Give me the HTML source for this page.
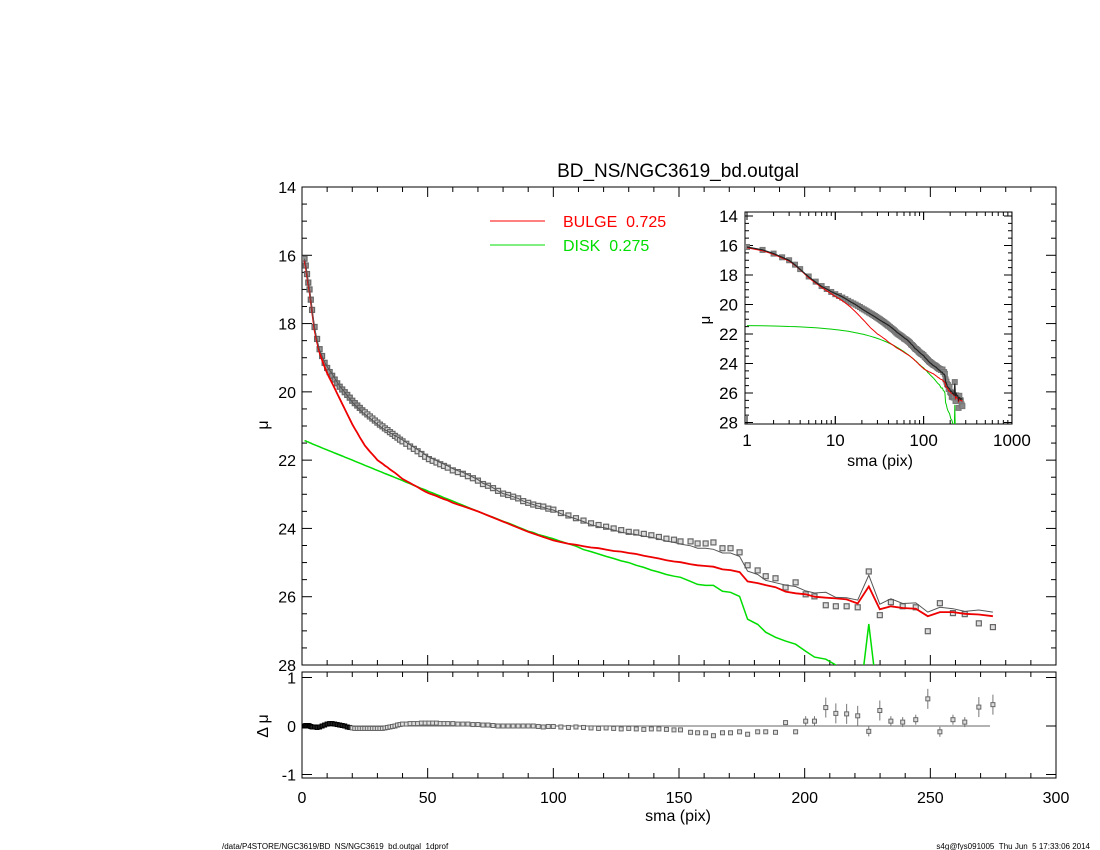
<!DOCTYPE html>
<html><head><meta charset="utf-8">
<style>
body{margin:0;background:#fff;}
svg{display:block;font-family:"Liberation Sans",sans-serif;}
</style></head>
<body>
<svg id="chart" width="1100" height="850" xmlns="http://www.w3.org/2000/svg">
<rect x="0" y="0" width="1100" height="850" fill="#fff"/>
<text x="678" y="177" font-size="19" text-anchor="middle">BD_NS/NGC3619_bd.outgal</text>
<defs>
<clipPath id="cm"><rect x="302" y="187" width="754" height="478"/></clipPath>
<clipPath id="ci"><rect x="745" y="212" width="267" height="212"/></clipPath>
</defs>
<g id="axes"></g>
<g id="marks"></g>
<line x1="490" y1="221" x2="545" y2="221" stroke="#f00" stroke-width="1"/>
<text x="563" y="227" font-size="16" fill="#f00">BULGE&#160;&#160;0.725</text>
<line x1="490" y1="245" x2="545" y2="245" stroke="#0d0" stroke-width="1"/>
<text x="563" y="251" font-size="16" fill="#0d0">DISK&#160;&#160;0.275</text>
<text x="268" y="425" font-size="16" text-anchor="middle" transform="rotate(-90 268 425)">μ</text>
<text x="268" y="726" font-size="16" text-anchor="middle" transform="rotate(-90 268 726)">Δ μ</text>
<text x="678" y="821" font-size="16" text-anchor="middle">sma (pix)</text>
<text x="710" y="320" font-size="15" text-anchor="middle" transform="rotate(-90 710 320)">μ</text>
<text x="880" y="466" font-size="16" text-anchor="middle">sma (pix)</text>
<text x="222" y="849" font-size="8">/data/P4STORE/NGC3619/BD_NS/NGC3619_bd.outgal_1dprof</text>
<text x="1090" y="849" font-size="8" text-anchor="end">s4g@fys091005&#160;&#160;Thu Jun&#160;&#160;5 17:33:06 2014</text>
</svg>
<script>
const sma=[1,1.5,2,2.5,3,3.5,4,5,6,7,8,9,10,11,12,13,14,15,16,17,18,19,20,21,22,23,24,25,26,27,28,29,30,31,32,33,34,35,36,37,38,39,40,41.5,43,44.5,46,47.5,49,50.5,52,53.5,55,56.5,58,60,62,64,66,68,70,72,74,76,78,80,82,84,86,88,90,92,94,96,98,100,103,106,109,112,115,118,121,124,127,130,133,136,139,142,145,148,
150.6,154.6,157.4,160.6,163.7,167.3,170.5,174.1,177.3,181.3,184.5,188.4,192.4,196.4,200.4,203.9,208.4,212.4,216.7,221.1,225.5,229.9,234.3,239.0,244.2,249.0,253.8,259.0,263.7,269.3,274.9];
const muObs=[16.1,16.3,16.55,16.8,17.0,17.3,17.6,18.1,18.45,18.75,18.95,19.15,19.3,19.42,19.53,19.64,19.75,19.85,19.93,20.01,20.09,20.17,20.26,20.33,20.4,20.47,20.54,20.6,20.66,20.72,20.78,20.84,20.9,20.96,21.01,21.07,21.12,21.18,21.23,21.29,21.34,21.4,21.45,21.52,21.6,21.67,21.74,21.82,21.9,21.97,22.02,22.07,22.12,22.17,22.22,22.3,22.35,22.4,22.47,22.53,22.6,22.7,22.75,22.82,22.9,22.98,23.02,23.07,23.12,23.2,23.25,23.3,23.34,23.36,23.42,23.45,23.55,23.62,23.7,23.77,23.85,23.9,23.95,24.0,24.05,24.1,24.12,24.16,24.2,24.25,24.3,24.33,
24.38,24.38,24.44,24.44,24.41,24.58,24.58,24.70,25.08,25.23,25.40,25.46,25.73,25.58,25.93,25.99,26.25,26.28,26.28,26.31,25.26,26.54,26.16,26.28,26.31,27.01,26.19,26.48,26.51,26.78,26.89];
const muBulge=[16.15,16.35,16.6,16.85,17.05,17.35,17.65,18.2,18.55,18.85,19.07,19.27,19.45,19.6,19.75,19.9,20.05,20.2,20.35,20.5,20.65,20.8,20.95,21.08,21.2,21.33,21.45,21.57,21.66,21.75,21.83,21.91,22.0,22.05,22.1,22.16,22.21,22.27,22.32,22.37,22.43,22.49,22.55,22.61,22.67,22.73,22.79,22.86,22.92,22.97,23.01,23.05,23.1,23.14,23.18,23.25,23.3,23.35,23.4,23.45,23.5,23.56,23.62,23.68,23.74,23.8,23.86,23.92,23.98,24.04,24.1,24.15,24.2,24.25,24.3,24.35,24.4,24.45,24.48,24.52,24.56,24.58,24.62,24.66,24.68,24.72,24.75,24.8,24.84,24.88,24.93,24.97,
24.99,25.05,25.08,25.1,25.12,25.2,25.22,25.28,25.55,25.6,25.66,25.72,25.85,25.9,25.93,26.0,26.03,26.05,26.08,26.2,25.7,26.37,26.28,26.33,26.35,26.57,26.45,26.45,26.5,26.52,26.57];
const muDisk=[21.43,21.44,21.46,21.47,21.49,21.5,21.52,21.55,21.58,21.61,21.64,21.67,21.7,21.73,21.76,21.79,21.82,21.85,21.88,21.91,21.94,21.97,22.0,22.03,22.06,22.09,22.12,22.15,22.18,22.21,22.24,22.27,22.3,22.33,22.36,22.39,22.42,22.45,22.48,22.51,22.54,22.57,22.6,22.65,22.69,22.74,22.78,22.83,22.87,22.92,22.96,23.01,23.05,23.1,23.14,23.2,23.26,23.32,23.38,23.44,23.5,23.56,23.62,23.67,23.73,23.79,23.84,23.9,23.96,24.02,24.08,24.12,24.18,24.22,24.26,24.3,24.38,24.45,24.52,24.62,24.68,24.75,24.82,24.88,24.95,25.0,25.08,25.14,25.22,25.28,25.35,25.4,
25.43,25.55,25.64,25.67,25.67,25.84,25.87,25.99,26.66,26.81,27.04,27.19,27.3,27.39,27.6,27.77,27.83,28.0,29.5,29.5,26.8,29.5,29.5,29.5,29.5,29.5,29.5,29.5,29.5,29.5,29.5];
const resid=[0.0,0.01,0.0,0.01,0.0,-0.01,-0.02,-0.02,-0.03,-0.02,0.0,0.02,0.04,0.05,0.05,0.04,0.03,0.02,0.01,0.0,-0.02,-0.03,-0.04,-0.05,-0.05,-0.05,-0.05,-0.05,-0.05,-0.05,-0.05,-0.05,-0.05,-0.05,-0.05,-0.04,-0.03,-0.02,-0.01,0.0,0.02,0.03,0.04,0.04,0.05,0.05,0.05,0.06,0.06,0.06,0.06,0.06,0.05,0.05,0.05,0.05,0.04,0.04,0.04,0.03,0.03,0.02,0.02,0.01,0.0,0.0,0.0,0.0,0.0,0.0,0.0,0.0,-0.01,-0.02,-0.01,-0.01,-0.02,-0.03,-0.02,-0.03,-0.04,-0.05,-0.04,-0.05,-0.06,-0.05,-0.06,-0.07,-0.06,-0.06,-0.07,-0.08,
-0.08,-0.13,-0.14,-0.14,-0.2,-0.14,-0.14,-0.12,-0.17,-0.12,-0.12,-0.13,0.07,-0.12,0.1,0.1,0.38,0.26,0.25,0.21,-0.11,0.32,0.1,0.08,0.13,0.56,-0.12,0.13,0.08,0.39,0.44];
const xTicks=[0,50,100,150,200,250,300];
const yTicks=[14,16,18,20,22,24,26,28];
const rTicks=[1,0,-1];
const inXTicks=[1,10,100,1000];

const NS='http://www.w3.org/2000/svg';
const X=v=>302+v*(754/300);
const Y=m=>187+(m-14)*(478/14);
const RY=d=>726-d*48.5;
const IX=r=>747+88.3*Math.log10(r);
const IY=m=>216+(m-14)*14.75;
const axes=document.getElementById('axes'), marks=document.getElementById('marks');
function mk(tag,at,p){const e=document.createElementNS(NS,tag);for(const k in at)e.setAttribute(k,at[k]);(p||axes).appendChild(e);return e;}
function ln(x1,y1,x2,y2,c,w,p){return mk('line',{x1,y1,x2,y2,stroke:c||'#000','stroke-width':w||1},p);}
function txt(x,y,s,fs,anc){const t=mk('text',{x,y,'font-size':fs,'text-anchor':anc||'middle'});t.textContent=s;return t;}

let f=mk('rect',{x:302,y:187,width:754,height:478,fill:'none',stroke:'#000','stroke-width':1});


f=mk('rect',{x:302,y:672,width:754,height:106,fill:'none',stroke:'#000','stroke-width':1});


for(let v=0;v<=300;v+=10){const maj=v%50===0,L=maj?10:5;
 ln(X(v),665,X(v),665-L);ln(X(v),187,X(v),187+L);ln(X(v),778,X(v),778-L);ln(X(v),672,X(v),672+L);}
xTicks.forEach(v=>{const t=txt(X(v),803,String(v),16);
 
 });
for(let m=14;m<=28;m+=0.5){const maj=m%2===0,L=maj?10:5;ln(302,Y(m),302+L,Y(m));ln(1056,Y(m),1056-L,Y(m));}
yTicks.forEach(m=>{const t=txt(296,Y(m)+6,String(m),16,'end');
 
 });
rTicks.forEach(d=>{ln(302,RY(d),312,RY(d));ln(1056,RY(d),1046,RY(d));const t=txt(296,RY(d)+6,String(d),16,'end');
 
 });
</script>
<script>
const gInset=mk('g',{},marks);
f=mk('rect',{x:745,y:212,width:267,height:212,fill:'#fff',stroke:'#000','stroke-width':1},marks);


for(let d=0;d<3;d++)for(let k=1;k<=10;k++){const r=Math.pow(10,d)*k,L=k===1||k===10?8:4;ln(IX(r),424,IX(r),424-L,'#000',1,marks);ln(IX(r),212,IX(r),212+L,'#000',1,marks);}
inXTicks.forEach(r=>{const t=txt(IX(r),446,String(r),17);
 
 });
for(let m=14;m<=28;m+=0.5){const maj=m%2===0,L=maj?8:4;ln(745,IY(m),745+L,IY(m),'#000',1,marks);ln(1012,IY(m),1012-L,IY(m),'#000',1,marks);}
yTicks.forEach(m=>{const t=txt(738,IY(m)+6,String(m),17,'end');
 
 });

function path(xs,ys,fx,fy,color,w,clip,name){
 const d=xs.map((v,i)=>(i?'L':'M')+fx(v).toFixed(1)+' '+fy(ys[i]).toFixed(1)).join(' ');
 const p=mk('path',{d,fill:'none',stroke:color,'stroke-width':w,'clip-path':'url(#'+clip+')'},marks);
 
 
 return p;}
const muModel=muObs.map((m,i)=>m-resid[i]);
const gm=mk('g',{'clip-path':'url(#cm)'},marks);
sma.forEach((r,i)=>{const s=mk('rect',{x:X(r)-2.5,y:Y(muObs[i])-2.5,width:5,height:5,fill:r<25?'#999':'#ddd',stroke:'#666','stroke-width':1.2},gm);
 
 });
path(sma,muDisk,X,Y,'#0d0',1.5,'cm','disk-line');
path(sma,muBulge,X,Y,'#e00',1.8,'cm','bulge-line');
path(sma,muModel,X,Y,'#555',1,'cm','model-line');
const zl=ln(302,726,990,726,'#666',1,marks);

sma.forEach((r,i)=>{const y=RY(resid[i]);const big=Math.abs(resid[i])>0.15&&r>200;
 if(r>200){ln(X(r),y-(big?10:5),X(r),y+(big?10:5),'#777',1,marks);}
 const s=mk('rect',{x:X(r)-2,y:y-2,width:4,height:4,fill:r<20?'#222':'#ddd',stroke:r<20?'#000':'#666','stroke-width':1},marks);
 
 });
const gi=mk('g',{'clip-path':'url(#ci)'},marks);
sma.forEach((r,i)=>{const s=mk('rect',{x:IX(r)-2.5,y:IY(muObs[i])-2.5,width:5,height:5,fill:'#888',stroke:'#777','stroke-width':1},gi);
 
 });
path(sma,muDisk,IX,IY,'#0c0',1,'ci','inset-disk-line');
path(sma,muBulge,IX,IY,'#e00',1,'ci','inset-bulge-line');
path(sma,muModel,IX,IY,'#222',1.2,'ci','inset-model-line');
</script>
</body></html>
